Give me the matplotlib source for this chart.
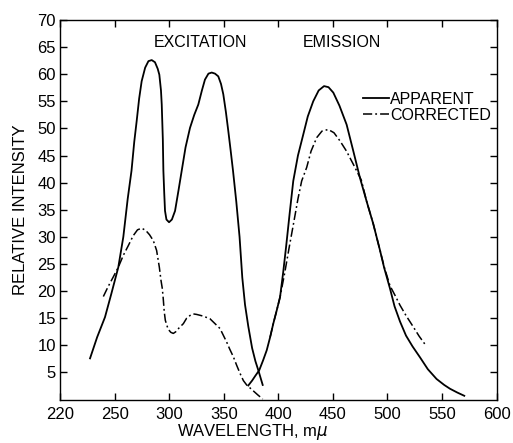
import matplotlib
matplotlib.use("Agg")
import matplotlib.pyplot as plt

plt.rcParams['font.family'] = ['Liberation Sans', 'DejaVu Sans']

# apparent spectra (solid)
app_exc_x = [227.5, 234, 241.2, 247, 253.4, 258, 262, 265.5, 268, 270.2, 272.5, 274.8,
             278, 281, 284, 287, 289.5, 291, 292.5, 293.2, 294.2, 294.7, 295.5, 296.2,
             297.5, 299.9, 302.5, 305.4, 308.5, 311.5, 315, 319.1, 323, 326.7, 330,
             332.8, 336, 339, 342, 345, 347.5, 349.6, 352, 354.2, 356.3, 358.5, 361.5,
             364.5, 367, 369.5, 372.5, 376, 379, 381.7, 385.7]
app_exc_y = [7.6, 11.5, 15.2, 19.5, 24.4, 30, 37, 42.2, 47.5, 51.3, 55.5, 58.7,
             61.2, 62.4, 62.6, 62.2, 61.0, 59.9, 57, 54.4, 48, 42.2, 38, 34.8,
             33.2, 32.7, 33.2, 34.8, 38.5, 42.2, 46.5, 50.1, 52.5, 54.4, 57,
             59.0, 60.1, 60.3, 60.1, 59.6, 58.2, 56.3, 53, 49.5, 46, 42.2, 36.5,
             30, 22.5, 17.5, 13.5, 9.5, 7.1, 5.4, 2.7]

app_em_x = [372.5, 376, 379, 382.5, 386, 389.4, 392.5, 395.4, 398.5, 401.6, 404.5, 407.1,
            410.5, 413.7, 418, 422.9, 427, 432, 437, 441.9, 446, 450.4, 456, 462.6,
            468.5, 474.8, 481, 487, 493.2, 497, 502.3, 506.5, 511.5, 517, 523, 529.8,
            537, 545, 552, 557.3, 564, 570.4]
app_em_y = [2.6, 3.5, 4.4, 5.4, 7.2, 9.1, 11.5, 14.0, 16.4, 18.9, 23.5, 28.1,
            34.5, 40.3, 45, 48.9, 52.2, 55.0, 57.0, 57.8, 57.6, 56.6, 54.2, 50.7,
            46, 40.9, 36.5, 32.4, 27.5, 24.3, 20.5, 17.2, 14.4, 11.8, 9.8, 7.8,
            5.6, 3.8, 2.7, 2.0, 1.3, 0.7]

# corrected spectra (dash-dot)
cor_exc_x = [239.7, 244, 248.5, 253.4, 258, 262.6, 267, 271, 274.8, 278.5, 282, 285.5,
             288.5, 291, 292.5, 293.7, 294.5, 295.5, 296.5, 299, 301.5, 303.8, 306, 309,
             313, 316, 319.1, 322, 325.2, 331, 337.4, 342, 346.6, 350, 352.7, 355.5,
             358.8, 361.9, 365, 368, 371, 376, 381, 385.7]
cor_exc_y = [19.0, 20.8, 22.5, 24.4, 26.6, 28.4, 30.2, 31.3, 31.6, 31.2, 30.4, 29.3,
             27.5, 24.4, 22, 20.5, 18.8, 16.2, 14.6, 13.0, 12.4, 12.2, 12.5, 13.2,
             14.0, 15.0, 15.5, 15.8, 15.7, 15.4, 14.9, 14.0, 13.1, 11.7, 10.6, 9.3,
             7.9, 6.3, 4.8, 3.5, 2.7, 1.8, 0.9, 0.1]

cor_em_x = [392.5, 395.4, 398.5, 401.6, 406, 410, 414, 418, 421.4, 426, 430, 435.2,
            440, 445.8, 451, 456.5, 462.5, 468.7, 476, 481, 487, 493.2, 497, 502.3,
            507, 511.5, 517, 523.7, 529, 534.4]
cor_em_y = [11.5, 14.0, 16.4, 18.9, 23.5, 28.1, 32.5, 37, 40.3, 42.8, 45.8, 48.3,
            49.5, 49.8, 49.2, 47.7, 45.8, 43.4, 40.5, 36.5, 32.4, 27.5, 24.5, 21.0,
            19.2, 17.4, 15.5, 13.4, 11.7, 10.2]

x_ticks = [200, 250, 300, 350, 400, 450, 500, 550, 600]
x_labels = ['220', '250', '300', '350', '400', '450', '500', '550', '600']
y_ticks = [5, 10, 15, 20, 25, 30, 35, 40, 45, 50, 55, 60, 65, 70]

dashdot = (0, (6, 2, 1.2, 2))

fig = plt.figure(figsize=(5.13, 4.43), dpi=100)
ax = fig.add_axes([0.117, 0.098, 0.851, 0.857])

ax.plot(app_exc_x, app_exc_y, color='black', lw=1.3, label='APPARENT')
ax.plot(app_em_x, app_em_y, color='black', lw=1.3)
ax.plot(cor_exc_x, cor_exc_y, color='black', lw=1.1, ls=dashdot, label='CORRECTED')
ax.plot(cor_em_x, cor_em_y, color='black', lw=1.1, ls=dashdot)

ax.set_xlim(200, 600)
ax.set_ylim(0, 70)
ax.set_xticks(x_ticks)
ax.set_xticklabels(x_labels)
ax.set_yticks(y_ticks)
ax.tick_params(direction='in', length=5, width=1, top=True, right=True,
               labelsize=12, pad=3)
ax.tick_params(axis='x', pad=5)
for s in ax.spines.values():
    s.set_linewidth(1.0)

ax.set_ylabel('RELATIVE INTENSITY', fontsize=12, labelpad=7)
ax.set_xlabel('WAVELENGTH, m$\\mu$', fontsize=12)
ax.xaxis.set_label_coords(0.442, -0.058)

ax.text(0.321, 0.94, 'EXCITATION', transform=ax.transAxes, fontsize=11.5,
        ha='center', va='center')
ax.text(0.646, 0.94, 'EMISSION', transform=ax.transAxes, fontsize=11.5,
        ha='center', va='center')

ax.legend(loc='upper left', bbox_to_anchor=(0.694, 0.81), frameon=False,
          fontsize=11.5, handlelength=1.6, handletextpad=0.1, labelspacing=0.05,
          borderpad=0, borderaxespad=0)

fig.savefig('out.png', dpi=100)
